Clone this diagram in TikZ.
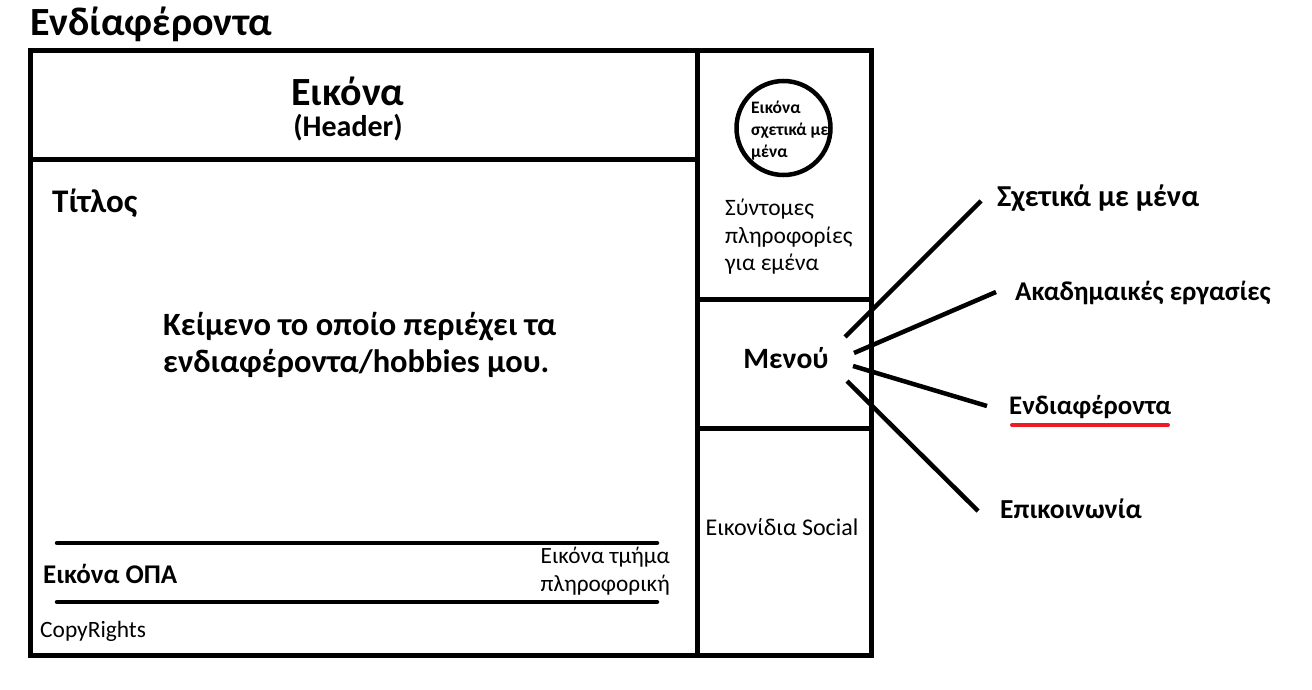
\documentclass[tikz,border=0pt]{standalone}
\usepackage{fontspec}
\setmainfont{Carlito}
\definecolor{markred}{RGB}{237,28,36}

\begin{document}
\begin{tikzpicture}[x=1pt, y=-1pt,
        frame/.style={line width=5pt},
        rule/.style={line width=4.5pt, line cap=round},
        link/.style={line width=4.5pt},
        txt/.style={inner sep=0pt, anchor=west, align=left},
        bold/.style={font=\bfseries\fontsize{#1}{#1}\selectfont},
        plain/.style={font=\fontsize{#1}{#1}\selectfont}]

        \useasboundingbox (0,0) rectangle (1312,690);

        % page title
        \node[txt, bold=40] (pagetitle) at (30,24) {Ενδίαφέροντα};

        % frame of the page
        \draw[frame] (30,51) rectangle (871,655);
        \draw[frame] (697,51) -- (697,655);
        \draw[frame] (30,160) -- (697,160);
        \draw[frame] (697,299) -- (871,299);
        \draw[frame] (697,428) -- (871,428);

        % header
        \node[inner sep=0pt, bold=40] (header) at (348,91) {Εικόνα};
        \node[inner sep=0pt, bold=30] (headersub) at (348,128) {(Header)};

        % main column
        \node[txt, bold=33] (titlos) at (52,203) {Τίτλος};
        \node[txt, font=\bfseries\fontsize{32.5}{37}\selectfont] (body) at (163,345)
                {Κείμενο το οποίο περιέχει τα\\ενδιαφέροντα/hobbies μου.};

        % footer
        \coordinate (r1a) at (57,543);
        \coordinate (r1b) at (657,543);
        \coordinate (r2a) at (57,602);
        \coordinate (r2b) at (657,602);
        \draw[rule] (r1a) -- (r1b);
        \draw[rule] (r2a) -- (r2b);
        \node[txt, bold=27] (opa) at (43,574) {Εικόνα ΟΠΑ};
        \node[inner sep=0pt, anchor=east, align=right, font=\fontsize{23.3}{28}\selectfont] (dept) at (670,571)
                {Εικόνα τμήμα\\πληροφορική};
        \node[txt, plain=23.4] (copy) at (40,631) {CopyRights};

        % side column
        \node[draw, circle, line width=4.5pt, minimum size=94pt, inner sep=0pt] (aboutpic) at (783.5,128) {};
        \node[txt, font=\bfseries\fontsize{17.5}{22}\selectfont] (abouttext) at (751,131)
                {Εικόνα\\σχετικά με\\μένα};
        \node[txt, font=\fontsize{23.5}{27.5}\selectfont] (shortinfo) at (725,237)
                {Σύντομες\\πληροφορίες\\για εμένα};
        \node[inner sep=0pt, bold=29.5] (menu) at (786,358) {Μενού};
        \node[inner sep=0pt, plain=24] (social) at (782,527) {Εικονίδια Social};

        % menu entries
        \node[txt, bold=30.4] (about) at (997,198) {Σχετικά με μένα};
        \node[txt, bold=27.1] (academic) at (1015,293) {Ακαδημαικές εργασίες};
        \node[txt, bold=26.8] (hobbies) at (1009,407) {Ενδιαφέροντα};
        \node[txt, bold=27.5] (contact) at (1000,509) {Επικοινωνία};

        \coordinate (m1) at (845,337);
        \coordinate (m2) at (854,353);
        \coordinate (m3) at (853,366);
        \coordinate (m4) at (847,381);
        \coordinate (e1) at (981,201);
        \coordinate (e2) at (996,292);
        \coordinate (e3) at (987,406);
        \coordinate (e4) at (978,511);
        \foreach \i in {1, 2, 3, 4}
        {
                \draw[link] (m\i) -- (e\i);
        }

        % current page marker
        \coordinate (u1) at (1012,425);
        \coordinate (u2) at (1168,425);
        \draw[markred, line width=4pt, line cap=round] (u1) -- (u2);

\end{tikzpicture}
\end{document}
